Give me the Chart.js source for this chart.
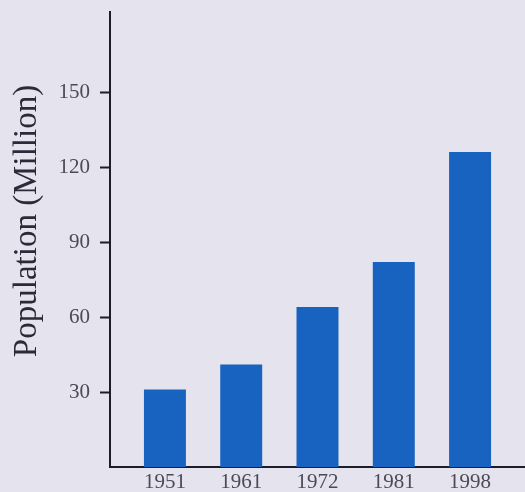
<!DOCTYPE html>
<html>
<head>
<meta charset="utf-8">
<script src="https://cdn.jsdelivr.net/npm/chart.js@4"></script>
<style>
    html, body { margin: 0; padding: 0; background: #e5e3ee; }
    #wrap { width: 525px; height: 492px; }
</style>
</head>
<body>
<div id="wrap"><canvas id="myChart"></canvas></div>
<script>
const years = ['1951', '1961', '1972', '1981', '1998'];
const population = [31, 41, 64, 82, 126];
const yTicks = [30, 60, 90, 120, 150];
const yTitle = 'Population (Million)';

const barColor = 'rgba(24, 98, 192, 1)';
const inkColor = '#1c1c2a';
const labelColor = '#4a4a58';

// y title sits a bit above the middle of the axis in the original, so draw it by hand
const yTitlePlugin = {
    id: 'yTitlePlugin',
    afterDraw(chart) {
        const { ctx } = chart;
        ctx.save();
        ctx.translate(27, 221);
        ctx.rotate(-Math.PI / 2);
        ctx.fillStyle = '#2a2a38';
        ctx.font = '33px "Liberation Serif"';
        ctx.textAlign = 'center';
        ctx.textBaseline = 'middle';
        ctx.fillText(yTitle, 0, 0);
        ctx.restore();
    }
};

let ctx = document.getElementById('myChart').getContext('2d');

let chart = new Chart(ctx, {
    type: 'bar',
    data: {
        datasets: [{
            data: population.map((v, i) => ({ x: i, y: v })),
            backgroundColor: barColor,
            borderWidth: 0,
            barPercentage: 0.55,
            categoryPercentage: 1
        }]
    },
    plugins: [yTitlePlugin],
    options: {
        responsive: true,
        maintainAspectRatio: false,
        animation: false,
        layout: {
            padding: { top: 12, right: 0, bottom: 0, left: 0 }
        },
        plugins: {
            legend: { display: false },
            tooltip: { enabled: false }
        },
        scales: {
            x: {
                type: 'linear',
                offset: false,
                min: -0.72,
                max: 4.72,
                afterBuildTicks: function(scale) {
                    scale.ticks = years.map((y, i) => ({ value: i }));
                },
                afterFit: function(scale) {
                    scale.height = 25;
                    scale.paddingLeft = 0;
                    scale.paddingRight = 0;
                },
                grid: {
                    display: false,
                    drawTicks: false
                },
                border: {
                    display: true,
                    color: inkColor,
                    width: 2
                },
                ticks: {
                    padding: 3,
                    color: labelColor,
                    font: { family: 'Liberation Serif', size: 21 },
                    callback: function(value) {
                        return years[value];
                    }
                }
            },
            y: {
                min: 0,
                max: 182,
                afterBuildTicks: function(scale) {
                    scale.ticks = yTicks.map(v => ({ value: v }));
                },
                afterFit: function(scale) {
                    scale.width = 110;
                    scale.paddingTop = 0;
                    scale.paddingBottom = 0;
                },
                grid: {
                    drawOnChartArea: false,
                    drawTicks: true,
                    tickLength: 10,
                    tickColor: inkColor,
                    tickWidth: 2
                },
                border: {
                    display: true,
                    color: inkColor,
                    width: 2
                },
                ticks: {
                    padding: 10,
                    color: labelColor,
                    font: { family: 'Liberation Serif', size: 21 }
                }
            }
        }
    }
});
</script>
</body>
</html>
